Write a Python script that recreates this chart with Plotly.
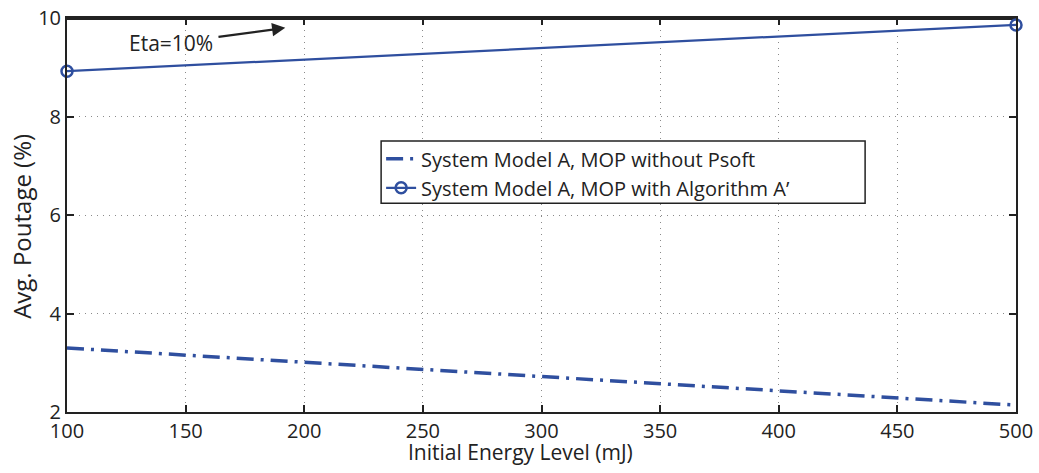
import plotly.graph_objects as go

energy = [100, 500]
mop_without_psoft = [3.30, 2.14]
mop_with_alg = [8.92, 9.86]
eta_level = [10, 10]
x_ticks = [100, 150, 200, 250, 300, 350, 400, 450, 500]
y_ticks = [2, 4, 6, 8, 10]

blue = "#2f4f9f"
ink = "#222222"
font = "Open Sans"

fig = go.Figure()
fig.add_trace(go.Scatter(
    x=energy, y=eta_level, mode="lines", showlegend=False,
    line=dict(color=ink, width=4), cliponaxis=False, hoverinfo="skip"))
fig.add_trace(go.Scatter(
    x=energy, y=mop_without_psoft, mode="lines",
    name="System Model A, MOP without Psoft",
    line=dict(color=blue, width=3.5, dash="17px,7px,3px,7px")))
fig.add_trace(go.Scatter(
    x=energy, y=mop_with_alg, mode="lines+markers",
    name="System Model A, MOP with Algorithm A\u2019",
    line=dict(color=blue, width=2.2),
    marker=dict(symbol="circle-open", size=11, color=blue, line=dict(width=2.5)),
    cliponaxis=False))

fig.add_annotation(x=192, y=9.8, ax=144, ay=9.49, xref="x", yref="y",
                   axref="x", ayref="y", text="", showarrow=True,
                   arrowhead=2, arrowsize=1.2, arrowwidth=2.2, arrowcolor=ink,
                   standoff=0, startstandoff=46)
fig.add_annotation(x=144, y=9.49, xref="x", yref="y", text="Eta=10%",
                   showarrow=False, font=dict(family=font, size=21, color=ink))

# axis titles
fig.add_annotation(x=0.478, y=-0.101, xref="paper", yref="paper",
                   xanchor="center", yanchor="middle", showarrow=False,
                   text="Initial Energy Level (mJ)",
                   font=dict(family=font, size=21, color=ink))
fig.add_annotation(x=-0.0474, y=0.47, xref="paper", yref="paper",
                   xanchor="center", yanchor="middle", showarrow=False,
                   textangle=-90, text="Avg. Poutage (%)",
                   font=dict(family=font, size=24, color=ink))

# legend frame (MATLAB-style wide box)
fig.add_shape(type="rect", xref="paper", yref="paper",
              x0=0.331, x1=0.841, y0=0.530, y1=0.688,
              fillcolor="white", line=dict(color=ink, width=1.5), layer="above")

axis_common = dict(
    showline=True, linecolor=ink, linewidth=2, mirror="ticks",
    ticks="inside", ticklen=7, tickwidth=1.5, tickcolor=ink,
    showgrid=True, gridcolor="#8a8a8a", griddash="1px,5px", gridwidth=1,
    zeroline=False, automargin=False,
    tickfont=dict(family=font, size=20, color=ink),
)

fig.update_layout(
    width=1039, height=473,
    margin=dict(l=67, r=23, t=18, b=61),
    paper_bgcolor="white", plot_bgcolor="white",
    xaxis=dict(range=[100, 500], tickvals=x_ticks, **axis_common),
    yaxis=dict(range=[2, 10], tickvals=y_ticks, **axis_common),
    legend=dict(x=0.331, y=0.692, xanchor="left", yanchor="top",
                bgcolor="rgba(0,0,0,0)", borderwidth=0,
                font=dict(family=font, size=20, color=ink),
                itemwidth=30, tracegroupgap=0),
    showlegend=True,
)

fig.write_html("out.html")
